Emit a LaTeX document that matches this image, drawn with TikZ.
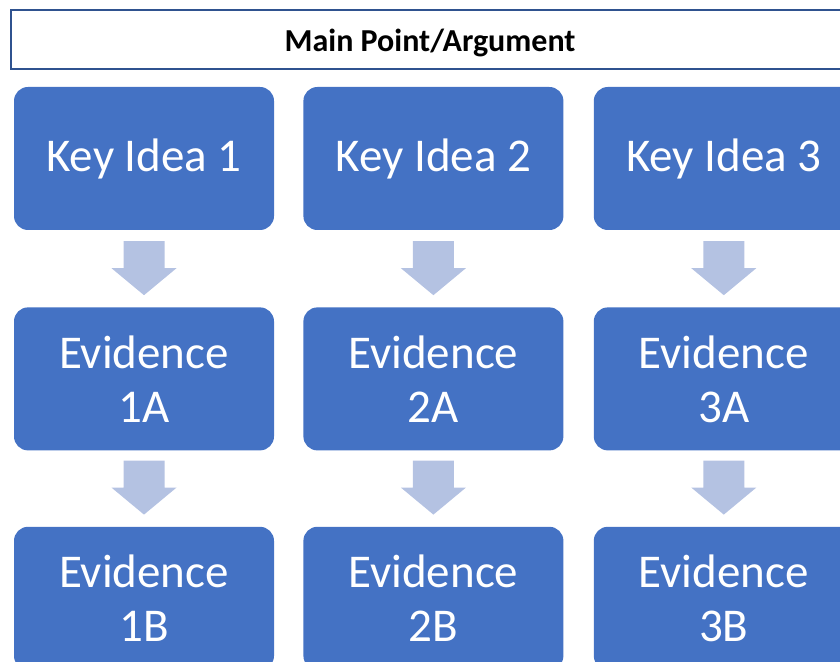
\documentclass[tikz,border=0pt]{standalone}
\usepackage{fontspec}
\setmainfont{Carlito}
\usetikzlibrary{positioning}
\definecolor{boxblue}{RGB}{68,114,196}
\definecolor{arrowblue}{RGB}{180,194,226}
\definecolor{edgeblue}{RGB}{47,82,143}
\tikzset{
	ideabox/.style={fill=boxblue, rounded corners=14pt, minimum width=260pt, minimum height=143pt, inner sep=0pt,
		text=white, align=center, font=\fontsize{47}{54}\selectfont},
	mainbox/.style={draw=edgeblue, line width=2pt, fill=white, minimum width=838pt, minimum height=59pt,
		text height=25pt, text depth=0pt, font=\fontsize{32}{38}\selectfont\bfseries},
	blockarrow/.pic={
		\fill[arrowblue] (-20.5,0) -- (20.5,0) -- (20.5,-27) -- (32.5,-27)
			-- (0,-54) -- (-32.5,-27) -- (-20.5,-27) -- cycle;
	}
}

\begin{document}
\begin{tikzpicture}[x=1pt, y=1pt]
			\useasboundingbox (0,0) rectangle (840,661);
			\clip (0,0) rectangle (840,661);
			\node[mainbox] (main) at (430,621.5) {Main Point/Argument};
			\node[ideabox] (k1) at (144,502.5) {Key Idea 1};
			\node[ideabox, right=29pt of k1] (k2) {Key Idea 2};
			\node[ideabox, right=30pt of k2] (k3) {Key Idea 3};
			\node[ideabox, below=77pt of k1] (e1a) {Evidence\\1A};
			\node[ideabox, below=77pt of k2] (e2a) {Evidence\\2A};
			\node[ideabox, below=77pt of k3] (e3a) {Evidence\\3A};
			\node[ideabox, below=76pt of e1a] (e1b) {Evidence\\1B};
			\node[ideabox, below=76pt of e2a] (e2b) {Evidence\\2B};
			\node[ideabox, below=76pt of e3a] (e3b) {Evidence\\3B};
			\foreach \n in {1,2,3} {
				\path (k\n.south) ++(0,-11) pic {blockarrow};
				\path (e\n a.south) ++(0,-10) pic {blockarrow};
			}
		\end{tikzpicture}
\end{document}
